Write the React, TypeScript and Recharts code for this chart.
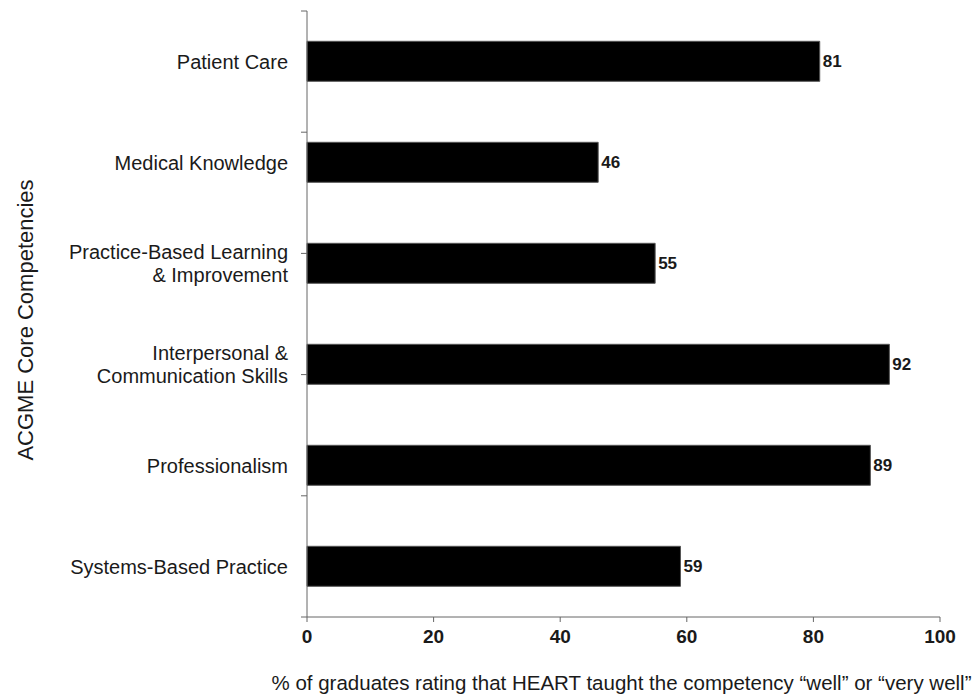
import React from 'react';
import { BarChart, Bar, XAxis, YAxis, LabelList } from 'recharts';

const categories = [
  'Patient Care',
  'Medical Knowledge',
  'Practice-Based Learning\n& Improvement',
  'Interpersonal &\nCommunication Skills',
  'Professionalism',
  'Systems-Based Practice',
];
const values = [81, 46, 55, 92, 89, 59];
const xTicks = [0, 20, 40, 60, 80, 100];
const boundaryTicks = [0, 1, 2, 3, 4, 5, 6];

const data = categories.map((name, i) => ({ name, value: values[i] }));

const FONT = '"Liberation Sans", Arial, sans-serif';
const AXIS = '#666';

const CategoryTick = (props: any) => {
  const { x, y, payload } = props;
  const lines = String(payload.value).split('\n');
  const lh = 23;
  const start = -((lines.length - 1) * lh) / 2;
  return (
    <text x={x} y={y} textAnchor="end" fill="#1a1a1a" fontSize={20} fontFamily={FONT}>
      {lines.map((l, i) => (
        <tspan key={i} x={x} y={y + start + i * lh} dy="0.35em">
          {l}
        </tspan>
      ))}
    </text>
  );
};

// tick marks only, no labels, at the band boundaries
const NoTick = () => <g />;

export default function App() {
  return (
    <div style={{ position: 'absolute', left: 0, top: 0, width: 974, height: 696, background: '#fff' }}>
      <BarChart
        width={974}
        height={696}
        data={data}
        layout="vertical"
        margin={{ top: 11, right: 34, bottom: 9, left: 6 }}
        barCategoryGap="30%"
      >
        <XAxis
          type="number"
          domain={[0, 100]}
          ticks={xTicks}
          height={70}
          stroke={AXIS}
          tickSize={5}
          tickMargin={8}
          tick={{ fill: '#1a1a1a', fontSize: 19, fontWeight: 'bold', fontFamily: FONT }}
          label={{
            content: (p: any) => {
              const vb = p.viewBox;
              return (
                <text
                  x={vb.x + vb.width / 2 - 2}
                  y={vb.y + 73}
                  textAnchor="middle"
                  fill="#1a1a1a"
                  fontSize={20.5}
                  fontFamily={FONT}
                >
                  % of graduates rating that HEART taught the competency “well” or “very well”
                </text>
              );
            },
          }}
        />
        <YAxis
          yAxisId="b_cat"
          type="category"
          dataKey="name"
          width={300}
          axisLine={false}
          tickLine={false}
          tickMargin={12}
          interval={0}
          tick={<CategoryTick />}
          label={{
            content: (p: any) => {
              const vb = p.viewBox;
              const cx = vb.x + 19;
              const cy = vb.y + vb.height / 2 + 6;
              return (
                <text
                  x={cx}
                  y={cy}
                  transform={`rotate(-90 ${cx} ${cy})`}
                  textAnchor="middle"
                  dominantBaseline="central"
                  fill="#1a1a1a"
                  fontSize={22}
                  fontFamily={FONT}
                >
                  ACGME Core Competencies
                </text>
              );
            },
          }}
        />
        <YAxis
          yAxisId="a_grid"
          type="number"
          domain={[0, 6]}
          ticks={boundaryTicks}
          width={1}
          tick={<NoTick />}
          tickLine={{ stroke: AXIS }}
          tickSize={6}
          stroke={AXIS}
        />
        <Bar dataKey="value" yAxisId="b_cat" fill="#000" stroke="#555" strokeWidth={1} isAnimationActive={false}>
          <LabelList
            dataKey="value"
            position="right"
            offset={3}
            fill="#1a1a1a"
            fontSize={17}
            fontWeight="bold"
            fontFamily={FONT}
          />
        </Bar>
      </BarChart>
    </div>
  );
}
